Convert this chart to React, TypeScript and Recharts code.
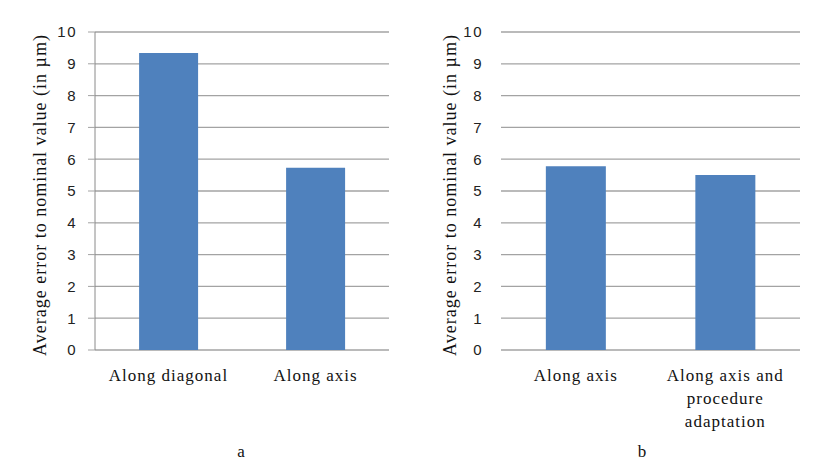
import { Bar, BarChart, CartesianGrid, Text, XAxis, YAxis } from "recharts";

// Average error per measurement strategy (µm)
const diagonalCategories = ["Along diagonal", "Along axis"];
const diagonalErrors = [9.34, 5.73];

const adaptationCategories = ["Along axis", "Along axis and procedure adaptation"];
const adaptationErrors = [5.78, 5.5];

const errorTicks = [0, 1, 2, 3, 4, 5, 6, 7, 8, 9, 10];
const errorAxisTitle = "Average error to nominal value (in µm)";
const panelCaptions = ["a", "b"];

const BAR_COLOR = "#4f81bd";
const GRID_COLOR = "#a3a3a3";
const SERIF = "Liberation Serif, DejaVu Serif, Times New Roman, serif";
const SANS = "Liberation Sans, Arial, sans-serif";

interface PanelProps {
  categories: string[];
  values: number[];
  left: number;
  marginLeft: number;
  marginRight: number;
  titleX: number;
  showAxisLine: boolean;
  tickSize: number;
  tickMargin: number;
}

function CategoryTick({ x, y, payload }: any) {
  return (
    <Text
      x={x}
      y={y}
      width={125}
      textAnchor="middle"
      verticalAnchor="start"
      lineHeight={23}
      fill="#111"
      fontFamily={SERIF}
      fontSize={17}
      letterSpacing={1}
      style={{ fontFamily: SERIF, fontSize: 17, letterSpacing: 1 }}
    >
      {payload.value}
    </Text>
  );
}

function ErrorPanel({
  categories,
  values,
  left,
  marginLeft,
  marginRight,
  titleX,
  showAxisLine,
  tickSize,
  tickMargin,
}: PanelProps) {
  const rows = categories.map((name, i) => ({ name, error: values[i] }));

  return (
    <div style={{ position: "absolute", left, top: 0 }}>
      <BarChart
        width={420}
        height={463}
        data={rows}
        margin={{ top: 32, right: marginRight, left: marginLeft, bottom: 53 }}
        barCategoryGap="30%"
      >
        <CartesianGrid horizontal vertical={false} stroke={GRID_COLOR} strokeWidth={1.3} />
        {/* category boundary ticks below the plot */}
        <XAxis
          xAxisId="edges"
          type="number"
          domain={[0, 2]}
          ticks={showAxisLine ? [0, 1] : []}
          height={0}
          axisLine={false}
          tickLine={{ stroke: "#8a8a8a" }}
          tickSize={6}
          tickFormatter={() => ""}
        />
        <XAxis
          dataKey="name"
          axisLine={false}
          tickLine={false}
          tickSize={0}
          tickMargin={19}
          height={60}
          interval={0}
          tick={<CategoryTick />}
        />
        <YAxis
          domain={[0, 10]}
          ticks={errorTicks}
          width={65}
          axisLine={showAxisLine ? { stroke: "#8a8a8a" } : false}
          tickLine={showAxisLine ? { stroke: GRID_COLOR } : false}
          tickSize={tickSize}
          tickMargin={tickMargin}
          tick={{ fill: "#222", fontSize: 15, fontFamily: SANS, letterSpacing: 1.5 }}
          label={(props: any) => {
            const vb = props.viewBox;
            const cy = vb.y + vb.height / 2 + 4;
            return (
              <text
                x={vb.x + titleX}
                y={cy}
                transform={`rotate(-90 ${vb.x + titleX} ${cy})`}
                textAnchor="middle"
                dominantBaseline="central"
                fill="#111"
                fontFamily={SERIF}
                fontSize={18}
                letterSpacing={1}
              >
                {errorAxisTitle}
              </text>
            );
          }}
        />
        <Bar dataKey="error" fill={BAR_COLOR} isAnimationActive={false} />
      </BarChart>
    </div>
  );
}

const captionStyle = {
  position: "absolute" as const,
  top: 452,
  transform: "translate(-50%, -50%)",
  fontFamily: SERIF,
  fontSize: 17,
  color: "#111",
};

export default function App() {
  return (
    <div
      style={{
        position: "absolute",
        left: 0,
        top: 0,
        width: 833,
        height: 463,
        background: "#fff",
        overflow: "hidden",
      }}
    >
      <ErrorPanel
        categories={diagonalCategories}
        values={diagonalErrors}
        left={0}
        marginLeft={30}
        marginRight={31}
        titleX={10}
        showAxisLine
        tickSize={7}
        tickMargin={11}
      />
      <ErrorPanel
        categories={adaptationCategories}
        values={adaptationErrors}
        left={413}
        marginLeft={23}
        marginRight={33}
        titleX={14}
        showAxisLine={false}
        tickSize={0}
        tickMargin={18}
      />
      <div style={{ ...captionStyle, left: 241 }}>{panelCaptions[0]}</div>
      <div style={{ ...captionStyle, left: 642 }}>{panelCaptions[1]}</div>
    </div>
  );
}
